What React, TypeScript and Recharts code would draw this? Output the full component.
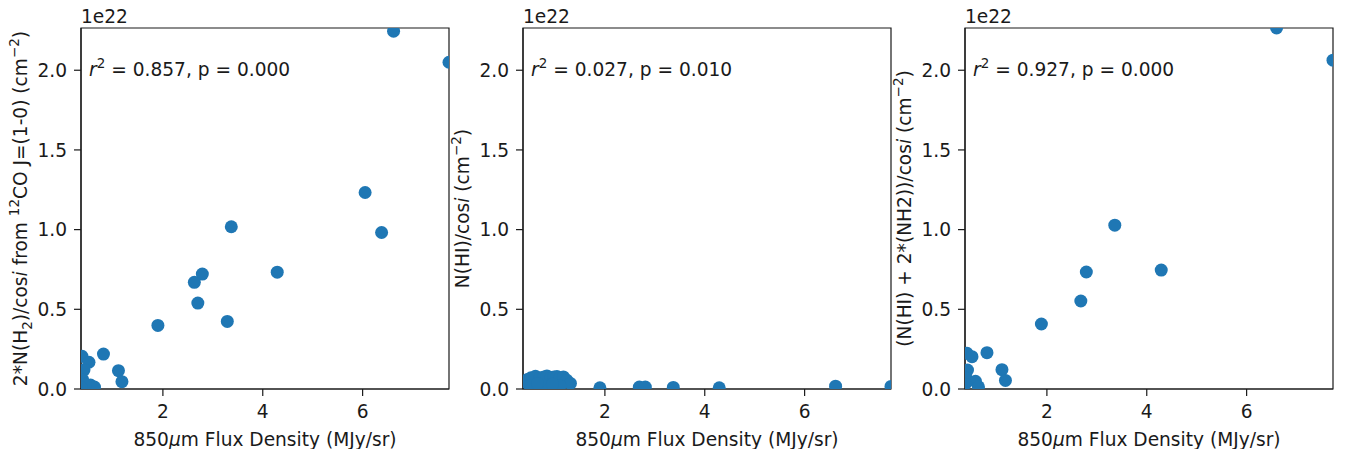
import React from "react";
import {
  ScatterChart,
  Scatter,
  XAxis,
  YAxis,
  ReferenceArea,
  Customized,
} from "recharts";

// column densities are in units of 1e22 cm^-2
const h2X = [6.62, 7.73, 6.05, 6.38, 3.37, 4.29, 2.79, 2.63, 2.7, 3.29, 1.9, 0.81, 1.11, 1.18, 0.38, 0.52, 0.42, 0.39, 0.55, 0.63, 0.45, 0.36];
const h2Y = [2.245, 2.05, 1.233, 0.982, 1.018, 0.733, 0.721, 0.669, 0.539, 0.424, 0.399, 0.219, 0.115, 0.046, 0.205, 0.168, 0.12, 0.06, 0.025, 0.012, 0.03, 0.01];

const hiX = [0.37, 0.45, 0.52, 0.61, 0.7, 0.78, 0.84, 0.92, 0.98, 1.04, 1.1, 1.17, 1.24, 1.31, 0.5, 0.8, 1.1, 0.65, 0.95, 1.9, 2.69, 2.81, 3.37, 4.29, 6.62, 7.73];
const hiY = [0.045, 0.06, 0.07, 0.08, 0.07, 0.075, 0.082, 0.07, 0.075, 0.078, 0.07, 0.076, 0.055, 0.035, 0.02, 0.02, 0.02, 0.035, 0.03, 0.008, 0.012, 0.012, 0.01, 0.008, 0.018, 0.016];

const totX = [6.6, 7.73, 3.36, 4.29, 2.79, 2.68, 1.89, 0.8, 1.1, 1.17, 0.4, 0.5, 0.41, 0.38, 0.57, 0.63, 0.36];
const totY = [2.265, 2.063, 1.028, 0.746, 0.734, 0.552, 0.408, 0.228, 0.121, 0.054, 0.224, 0.203, 0.119, 0.07, 0.048, 0.014, 0.03];

const fitStats = ["0.857, p = 0.000", "0.027, p = 0.010", "0.927, p = 0.000"];

const xTicks = [2, 4, 6];
const yTicks = [0, 0.5, 1, 1.5, 2];
const X_DOMAIN: [number, number] = [0.36, 7.73];
const Y_DOMAIN: [number, number] = [0, 2.265];

const BLUE = "#1f77b4";
const INK = "#1a1a1a";
const FONT = "DejaVu Sans";
const FS = 18.6;
const SMALL = 13.5;

const CHART_W = 460;
const CHART_H = 449;
const PLOT_L = 81;
const PLOT_T = 28;
const PLOT_W = 368;
const PLOT_H = 361;

const toPoints = (xs: number[], ys: number[]) => xs.map((x, i) => ({ x, y: ys[i] }));

type Seg = [string, "n" | "it" | "sup" | "sub"];

// mathtext-ish: each run carries its own dy so the baseline comes back after sup/sub
function rich(segs: Seg[]) {
  let cur = 0;
  return segs.map(([t, k], i) => {
    const target = k === "sup" ? -7.5 : k === "sub" ? 5 : 0;
    const dy = target - cur;
    cur = target;
    return (
      <tspan
        key={i}
        dy={dy}
        fontSize={k === "sup" || k === "sub" ? SMALL : undefined}
        fontStyle={k === "it" ? "italic" : undefined}
      >
        {t}
      </tspan>
    );
  });
}

const yLabels: Seg[][] = [
  [
    ["2*N(H", "n"], ["2", "sub"], [")/cos", "n"], ["i", "it"], [" from ", "n"],
    ["12", "sup"], ["CO J=(1-0) (cm", "n"], ["−2", "sup"], [")", "n"],
  ],
  [["N(HI)/cos", "n"], ["i", "it"], [" (cm", "n"], ["−2", "sup"], [")", "n"]],
  [["(N(HI) + 2*(NH2))/cos", "n"], ["i", "it"], [" (cm", "n"], ["−2", "sup"], [")", "n"]],
];

function PanelText({ idx }: { idx: number }) {
  const cx = PLOT_L + PLOT_W / 2;
  const cy = PLOT_T + PLOT_H / 2;
  const common = { fontFamily: FONT, fontSize: FS, fill: INK, style: { whiteSpace: "pre" as const } };
  return (
    <g>
      <text x={PLOT_L} y={22.5} {...common}>1e22</text>
      <text x={PLOT_L + 8} y={75.5} {...common}>
        {rich([["r", "it"], ["2", "sup"], [" = " + fitStats[idx], "n"]])}
      </text>
      <text x={cx} y={445.5} textAnchor="middle" {...common}>
        {rich([["850", "n"], ["μ", "it"], ["m Flux Density (MJy/sr)", "n"]])}
      </text>
      <text
        x={26.5}
        y={cy}
        textAnchor="middle"
        transform={`rotate(-90, 26.5, ${cy})`}
        {...common}
      >
        {rich(yLabels[idx])}
      </text>
    </g>
  );
}

const dot = (props: any) => <circle cx={props.cx} cy={props.cy} r={6.5} fill={BLUE} />;

function Panel({ idx, data }: { idx: number; data: { x: number; y: number }[] }) {
  const tickStyle = { fill: INK, fontSize: FS, fontFamily: FONT };
  return (
    <div style={{ position: "absolute", left: idx * 442, top: 0 }}>
      <ScatterChart
        width={CHART_W}
        height={CHART_H}
        margin={{ top: PLOT_T, right: CHART_W - PLOT_L - PLOT_W, bottom: 0, left: 8 }}
      >
        <XAxis
          type="number"
          dataKey="x"
          domain={X_DOMAIN}
          ticks={xTicks}
          allowDataOverflow
          height={CHART_H - PLOT_T - PLOT_H}
          tickSize={7}
          tickMargin={9}
          tick={tickStyle}
          stroke={INK}
          tickLine={{ stroke: INK, strokeWidth: 1.2 }}
          axisLine={{ stroke: INK, strokeWidth: 1.2 }}
        />
        <YAxis
          type="number"
          dataKey="y"
          domain={Y_DOMAIN}
          ticks={yTicks}
          allowDataOverflow
          width={PLOT_L - 8}
          tickSize={7}
          tickMargin={7}
          tick={tickStyle}
          tickFormatter={(v: number) => v.toFixed(1)}
          stroke={INK}
          tickLine={{ stroke: INK, strokeWidth: 1.2 }}
          axisLine={{ stroke: INK, strokeWidth: 1.2 }}
        />
        <Scatter data={data} fill={BLUE} shape={dot} isAnimationActive={false} />
        <ReferenceArea
          x1={X_DOMAIN[0]}
          x2={X_DOMAIN[1]}
          y1={Y_DOMAIN[0]}
          y2={Y_DOMAIN[1]}
          fill="none"
          fillOpacity={0}
          stroke={INK}
          strokeWidth={1.2}
          strokeOpacity={1}
        />
        <Customized component={() => <PanelText idx={idx} />} />
      </ScatterChart>
    </div>
  );
}

export default function App() {
  const panels = [toPoints(h2X, h2Y), toPoints(hiX, hiY), toPoints(totX, totY)];
  return (
    <div
      style={{
        position: "absolute",
        left: 0,
        top: 0,
        width: 1346,
        height: 449,
        background: "#fff",
        overflow: "hidden",
      }}
    >
      {panels.map((d, i) => (
        <Panel key={i} idx={i} data={d} />
      ))}
    </div>
  );
}
